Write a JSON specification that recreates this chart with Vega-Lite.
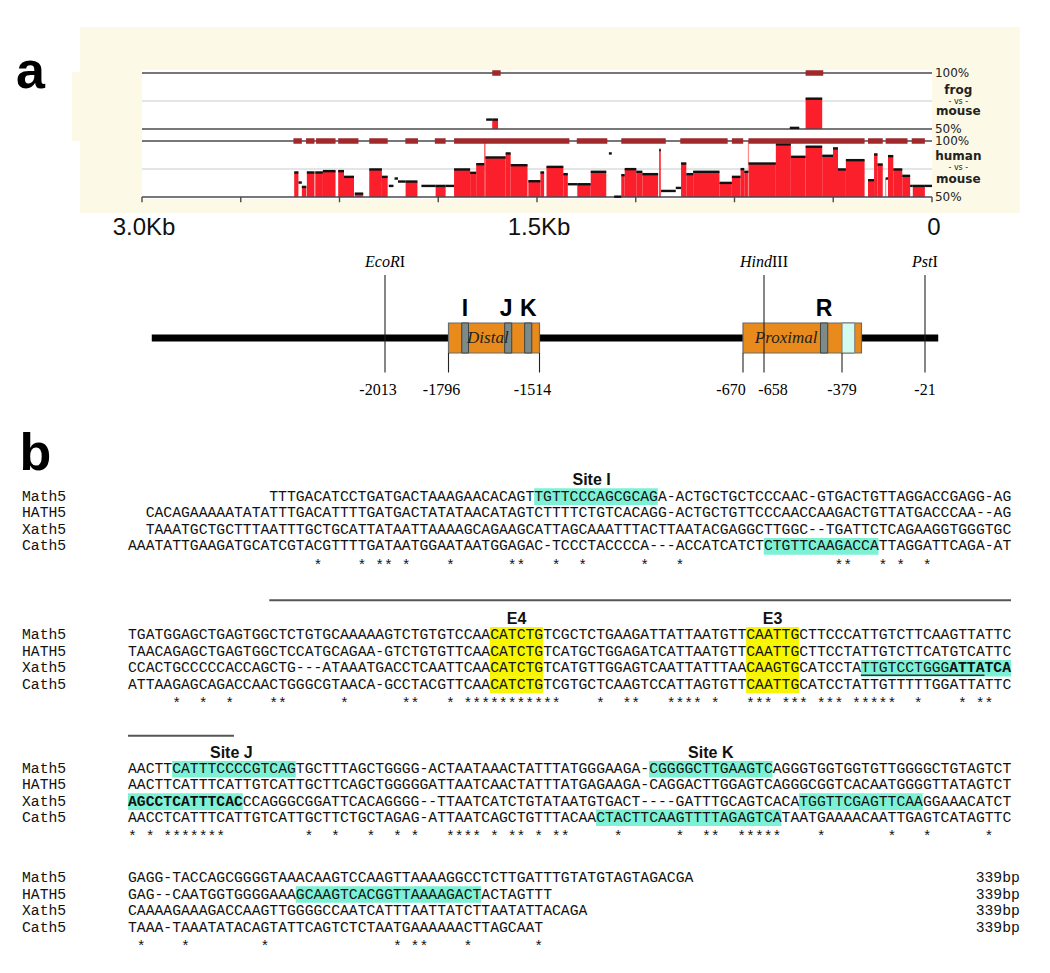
{
"$schema": "https://vega.github.io/schema/vega-lite/v6.json",
"width": 1050, "height": 973, "autosize": {"type": "none"}, "padding": 0,
"background": "white",
"config": {"view": {"stroke": null}},
"datasets": {
"hseg": [
{"s":2.422,"e":2.406,"p":71.9,"f":"y"},{"s":2.406,"e":2.393,"p":62.9,"f":"n"},{"s":2.393,"e":2.376,"p":59.0,"f":"y"},
{"s":2.374,"e":2.345,"p":71.9,"f":"y"},{"s":2.342,"e":2.313,"p":71.9,"f":"y"},{"s":2.313,"e":2.265,"p":73.1,"f":"y"},
{"s":2.255,"e":2.233,"p":73.1,"f":"y"},{"s":2.233,"e":2.195,"p":68.0,"f":"y"},{"s":2.192,"e":2.160,"p":53.0,"f":"y"},
{"s":2.137,"e":2.089,"p":74.6,"f":"y"},{"s":2.089,"e":2.067,"p":68.0,"f":"y"},{"s":2.063,"e":2.045,"p":59.9,"f":"n"},
{"s":2.041,"e":2.028,"p":66.5,"f":"n"},{"s":2.028,"e":1.999,"p":63.8,"f":"n"},{"s":1.999,"e":1.954,"p":63.8,"f":"y"},
{"s":1.939,"e":1.885,"p":59.9,"f":"n"},{"s":1.885,"e":1.847,"p":59.9,"f":"y"},{"s":1.847,"e":1.815,"p":59.9,"f":"n"},
{"s":1.815,"e":1.754,"p":74.6,"f":"y"},{"s":1.754,"e":1.731,"p":71.6,"f":"y"},{"s":1.731,"e":1.700,"p":79.3,"f":"y"},
{"s":1.700,"e":1.696,"p":100,"f":"y"},{"s":1.696,"e":1.619,"p":85.3,"f":"y"},{"s":1.619,"e":1.600,"p":88.9,"f":"y"},
{"s":1.600,"e":1.536,"p":78.4,"f":"y"},{"s":1.533,"e":1.487,"p":64.1,"f":"y"},{"s":1.487,"e":1.473,"p":71.9,"f":"y"},
{"s":1.464,"e":1.400,"p":76.9,"f":"y"},{"s":1.400,"e":1.383,"p":70.4,"f":"y"},{"s":1.383,"e":1.347,"p":61.4,"f":"n"},
{"s":1.347,"e":1.296,"p":61.4,"f":"y"},{"s":1.296,"e":1.237,"p":72.5,"f":"y"},{"s":1.227,"e":1.216,"p":88.9,"f":"n"},
{"s":1.207,"e":1.180,"p":50.3,"f":"n"},{"s":1.180,"e":1.167,"p":69.5,"f":"y"},{"s":1.167,"e":1.123,"p":74.9,"f":"y"},
{"s":1.123,"e":1.100,"p":72.5,"f":"y"},{"s":1.100,"e":1.040,"p":70.4,"f":"y"},{"s":1.036,"e":1.030,"p":91.9,"f":"y"},
{"s":1.029,"e":0.973,"p":55.4,"f":"n"},{"s":0.973,"e":0.953,"p":58.1,"f":"n"},{"s":0.953,"e":0.933,"p":79.9,"f":"y"},
{"s":0.933,"e":0.907,"p":70.4,"f":"y"},{"s":0.907,"e":0.807,"p":72.5,"f":"y"},{"s":0.807,"e":0.760,"p":62.6,"f":"y"},
{"s":0.760,"e":0.727,"p":68.0,"f":"y"},{"s":0.727,"e":0.713,"p":74.9,"f":"y"},{"s":0.713,"e":0.697,"p":72.5,"f":"y"},
{"s":0.697,"e":0.593,"p":79.9,"f":"y"},{"s":0.593,"e":0.536,"p":97.0,"f":"y"},{"s":0.536,"e":0.480,"p":85.9,"f":"y"},
{"s":0.480,"e":0.417,"p":94.9,"f":"y"},{"s":0.417,"e":0.376,"p":86.8,"f":"y"},{"s":0.376,"e":0.357,"p":93.4,"f":"y"},
{"s":0.357,"e":0.327,"p":74.6,"f":"y"},{"s":0.327,"e":0.256,"p":82.9,"f":"y"},{"s":0.243,"e":0.220,"p":65.0,"f":"y"},
{"s":0.220,"e":0.207,"p":88.0,"f":"y"},{"s":0.207,"e":0.187,"p":79.0,"f":"y"},{"s":0.176,"e":0.167,"p":66.5,"f":"n"},
{"s":0.167,"e":0.147,"p":86.5,"f":"y"},{"s":0.147,"e":0.113,"p":74.6,"f":"y"},{"s":0.113,"e":0.083,"p":68.9,"f":"y"},
{"s":0.083,"e":0.073,"p":59.9,"f":"n"},{"s":0.073,"e":0.027,"p":59.9,"f":"y"},{"s":0.027,"e":0.000,"p":59.9,"f":"n"}
],
"hblk": [
{"s":2.425,"e":2.393},{"s":2.377,"e":2.345},{"s":2.339,"e":2.265},{"s":2.255,"e":2.178},{"s":2.137,"e":2.067},
{"s":2.000,"e":1.952},{"s":1.888,"e":1.847},{"s":1.815,"e":1.377},{"s":1.349,"e":1.233},{"s":1.180,"e":1.011},
{"s":0.956,"e":0.776},{"s":0.760,"e":0.717},{"s":0.697,"e":0.256},{"s":0.243,"e":0.187},{"s":0.176,"e":0.093},
{"s":0.077,"e":0.027}
],
"hspk": [{"s":0.697,"p":100},{"s":0.176,"p":66.5}],
"fseg": [
{"s":1.693,"e":1.670,"p":58.4,"f":"n"},{"s":1.670,"e":1.648,"p":58.4,"f":"y"},
{"s":0.540,"e":0.504,"p":51.0,"f":"n"},{"s":0.480,"e":0.417,"p":77.1,"f":"y"}
],
"fblk": [{"s":1.670,"e":1.638},{"s":0.480,"e":0.413}],
"levels": [{"p":100,"k":"edge"},{"p":75,"k":"mid"},{"p":50,"k":"edge"}],
"ticks": [{"s":3},{"s":2.625},{"s":2.25},{"s":1.875},{"s":1.5},{"s":1.125},{"s":0.75},{"s":0.375},{"s":0}],
"xlab": [{"s":3,"t":"3.0Kb"},{"s":1.5,"t":"1.5Kb"},{"s":0,"t":"0"}],
"hlab": [{"p":100,"t":"100%","k":"pct"},{"p":86.5,"t":"human","k":"sp"},{"p":75.5,"t":"- vs -","k":"vs"},{"p":66.5,"t":"mouse","k":"sp"},{"p":50,"t":"50%","k":"pct"}],
"flab": [{"p":100,"t":"100%","k":"pct"},{"p":85,"t":"frog","k":"sp"},{"p":74.5,"t":"- vs -","k":"vs"},{"p":66,"t":"mouse","k":"sp"},{"p":50,"t":"50%","k":"pct"}],
"boxes": [{"b1":-1796,"b2":-1514,"name":"Distal","c":-1674},{"b1":-670,"b2":-295,"name":"Proximal","c":-579}],
"bands": [{"b1":-1755,"b2":-1734},{"b1":-1622,"b2":-1600},{"b1":-1560,"b2":-1538},{"b1":-456,"b2":-430}],
"cyanbox": [{"b1":-379,"b2":-324}],
"sites": [{"bp":-2013,"it":"EcoR","rm":"I"},{"bp":-658,"it":"Hind","rm":"III"},{"bp":-21,"it":"Pst","rm":"I"}],
"edges": [{"bp":-1796},{"bp":-1514},{"bp":-670},{"bp":-379}],
"letters": [{"bp":-1745,"t":"I"},{"bp":-1617,"t":"J"},{"bp":-1549,"t":"K"},{"bp":-443,"t":"R"}],
"nums": [{"bp":-2013,"t":"-2013"},{"bp":-1796,"t":"-1796"},{"bp":-1514,"t":"-1514"},{"bp":-670,"t":"-670"},{"bp":-658,"t":"-658"},{"bp":-379,"t":"-379"},{"bp":-21,"t":"-21"}],
"seq": [
{"line":1,"col":16,"txt":"TTTGACATCCTGATGACTAAAGAACACAGTTGTTCCCAGCGCAGA-ACTGCTGCTCCCAAC-GTGACTGTTAGGACCGAGG-AG","bold":false},
{"line":2,"col":2,"txt":"CACAGAAAAATATATTTGACATTTTGATGACTATATAACATAGTCTTTTCTGTCACAGG-ACTGCTGTTCCCAACCAAGACTGTTATGACCCAA--AG","bold":false},
{"line":3,"col":2,"txt":"TAAATGCTGCTTTAATTTGCTGCATTATAATTAAAAGCAGAAGCATTAGCAAATTTACTTAATACGAGGCTTGGC--TGATTCTCAGAAGGTGGGTGC","bold":false},
{"line":4,"col":0,"txt":"AAATATTGAAGATGCATCGTACGTTTTGATAATGGAATAATGGAGAC-TCCCTACCCCA---ACCATCATCTCTGTTCAAGACCATTAGGATTCAGA-AT","bold":false},
{"line":9,"col":0,"txt":"TGATGGAGCTGAGTGGCTCTGTGCAAAAAGTCTGTGTCCAACATCTGTCGCTCTGAAGATTATTAATGTTCAATTGCTTCCCATTGTCTTCAAGTTATTC","bold":false},
{"line":10,"col":0,"txt":"TAACAGAGCTGAGTGGCTCCATGCAGAA-GTCTGTGTTCAACATCTGTCATGCTGGAGATCATTAATGTTCAATTGCTTCCTATTGTCTTCATGTCATTC","bold":false},
{"line":11,"col":0,"txt":"CCACTGCCCCCACCAGCTG---ATAAATGACCTCAATTCAACATCTGTCATGTTGGAGTCAATTATTTAACAAGTGCATCCTATTGTCCTGGG","bold":false},
{"line":11,"col":93,"txt":"ATTATCA","bold":true},
{"line":12,"col":0,"txt":"ATTAAGAGCAGACCAACTGGGCGTAACA-GCCTACGTTCAACATCTGTCGTGCTCAAGTCCATTAGTGTTCAATTGCATCCTATTGTTTTTGGATTATTC","bold":false},
{"line":17,"col":0,"txt":"AACTTCATTTCCCCGTCAGTGCTTTAGCTGGGG-ACTAATAAACTATTTATGGGAAGA-CGGGGCTTGAAGTCAGGGTGGTGGTGTTGGGGCTGTAGTCT","bold":false},
{"line":18,"col":0,"txt":"AACTTCATTTCATTGTCATTGCTTCAGCTGGGGGATTAATCAACTATTTATGAGAAGA-CAGGACTTGGAGTCAGGGCGGTCACAATGGGGTTATAGTCT","bold":false},
{"line":19,"col":0,"txt":"AGCCTCATTTCAC","bold":true},
{"line":19,"col":13,"txt":"CCAGGGCGGATTCACAGGGG--TTAATCATCTGTATAATGTGACT----GATTTGCAGTCACATGGTTCGAGTTCAAGGAAACATCT","bold":false},
{"line":20,"col":0,"txt":"AACCTCATTTCATTGTCATTGCTTCTGCTAGAG-ATTAATCAGCTGTTTACAACTACTTCAAGTTTTAGAGTCATAATGAAAACAATTGAGTCATAGTTC","bold":false},
{"line":25,"col":0,"txt":"GAGG-TACCAGCGGGGTAAACAAGTCCAAGTTAAAAGGCCTCTTGATTTGTATGTAGTAGACGA","bold":false},
{"line":26,"col":0,"txt":"GAG--CAATGGTGGGGAAAGCAAGTCACGGTTAAAAGACTACTAGTTT","bold":false},
{"line":27,"col":0,"txt":"CAAAAGAAAGACCAAGTTGGGGCCAATCATTTAATTATCTTAATATTACAGA","bold":false},
{"line":28,"col":0,"txt":"TAAA-TAAATATACAGTATTCAGTCTCTAATGAAAAAACTTAGCAAT","bold":false}
],
"names": [
{"line":1,"txt":"Math5"},{"line":2,"txt":"HATH5"},{"line":3,"txt":"Xath5"},{"line":4,"txt":"Cath5"},
{"line":9,"txt":"Math5"},{"line":10,"txt":"HATH5"},{"line":11,"txt":"Xath5"},{"line":12,"txt":"Cath5"},
{"line":17,"txt":"Math5"},{"line":18,"txt":"HATH5"},{"line":19,"txt":"Xath5"},{"line":20,"txt":"Cath5"},
{"line":25,"txt":"Math5"},{"line":26,"txt":"HATH5"},{"line":27,"txt":"Xath5"},{"line":28,"txt":"Cath5"}
],
"bp339": [{"line":25,"txt":"339bp"},{"line":26,"txt":"339bp"},{"line":27,"txt":"339bp"},{"line":28,"txt":"339bp"}],
"stars": [
{"line":5,"col":21},{"line":5,"col":26},{"line":5,"col":28},{"line":5,"col":29},{"line":5,"col":31},{"line":5,"col":36},{"line":5,"col":43},{"line":5,"col":44},{"line":5,"col":48},{"line":5,"col":51},{"line":5,"col":58},{"line":5,"col":62},{"line":5,"col":80},{"line":5,"col":81},{"line":5,"col":85},{"line":5,"col":87},{"line":5,"col":90},
{"line":13,"col":5},{"line":13,"col":8},{"line":13,"col":11},{"line":13,"col":16},{"line":13,"col":17},{"line":13,"col":24},{"line":13,"col":31},{"line":13,"col":32},{"line":13,"col":36},{"line":13,"col":38},{"line":13,"col":39},{"line":13,"col":40},{"line":13,"col":41},{"line":13,"col":42},{"line":13,"col":43},{"line":13,"col":44},{"line":13,"col":45},{"line":13,"col":46},{"line":13,"col":47},{"line":13,"col":48},{"line":13,"col":53},{"line":13,"col":56},{"line":13,"col":57},{"line":13,"col":61},{"line":13,"col":62},{"line":13,"col":63},{"line":13,"col":64},{"line":13,"col":66},{"line":13,"col":70},{"line":13,"col":71},{"line":13,"col":72},{"line":13,"col":74},{"line":13,"col":75},{"line":13,"col":76},{"line":13,"col":78},{"line":13,"col":79},{"line":13,"col":80},{"line":13,"col":82},{"line":13,"col":83},{"line":13,"col":84},{"line":13,"col":85},{"line":13,"col":86},{"line":13,"col":89},{"line":13,"col":94},{"line":13,"col":96},{"line":13,"col":97},
{"line":21,"col":0},{"line":21,"col":2},{"line":21,"col":4},{"line":21,"col":5},{"line":21,"col":6},{"line":21,"col":7},{"line":21,"col":8},{"line":21,"col":9},{"line":21,"col":10},{"line":21,"col":20},{"line":21,"col":23},{"line":21,"col":27},{"line":21,"col":30},{"line":21,"col":32},{"line":21,"col":36},{"line":21,"col":37},{"line":21,"col":38},{"line":21,"col":39},{"line":21,"col":41},{"line":21,"col":43},{"line":21,"col":44},{"line":21,"col":46},{"line":21,"col":48},{"line":21,"col":49},{"line":21,"col":55},{"line":21,"col":62},{"line":21,"col":65},{"line":21,"col":66},{"line":21,"col":69},{"line":21,"col":70},{"line":21,"col":71},{"line":21,"col":72},{"line":21,"col":73},{"line":21,"col":78},{"line":21,"col":86},{"line":21,"col":90},{"line":21,"col":97},
{"line":29,"col":1},{"line":29,"col":6},{"line":29,"col":15},{"line":29,"col":30},{"line":29,"col":32},{"line":29,"col":33},{"line":29,"col":38},{"line":29,"col":46}
],
"hl": [
{"line":1,"c1":46,"c2":60,"type":"site"},{"line":4,"c1":72,"c2":85,"type":"site"},
{"line":9,"c1":41,"c2":47,"type":"ebox"},{"line":10,"c1":41,"c2":47,"type":"ebox"},{"line":11,"c1":41,"c2":47,"type":"ebox"},{"line":12,"c1":41,"c2":47,"type":"ebox"},
{"line":9,"c1":70,"c2":76,"type":"ebox"},{"line":10,"c1":70,"c2":76,"type":"ebox"},{"line":11,"c1":70,"c2":76,"type":"ebox"},{"line":12,"c1":70,"c2":76,"type":"ebox"},
{"line":11,"c1":83,"c2":100,"type":"site"},
{"line":17,"c1":5,"c2":19,"type":"site"},{"line":17,"c1":59,"c2":73,"type":"site"},
{"line":19,"c1":0,"c2":13,"type":"site"},{"line":19,"c1":76,"c2":90,"type":"site"},
{"line":20,"c1":53,"c2":74,"type":"site"},
{"line":26,"c1":19,"c2":40,"type":"site"}
],
"blabels": [{"line":0,"col":52.5,"txt":"Site I"},{"line":8,"col":44,"txt":"E4"},{"line":8,"col":73,"txt":"E3"},{"line":16,"col":11.7,"txt":"Site J"},{"line":16,"col":66,"txt":"Site K"}],
"bars": [{"line":7,"c1":16,"c2":100},{"line":15,"c1":0,"c2":12}],
"uline": [{"line":11,"c1":83,"c2":97}]
},
"resolve": {"scale": {"x": "independent", "y": "independent"}},
"layer": [
{
"layer": [
{"data":{"values":[{}]},"mark":{"type":"rect","color":"#fcf9e6"},
 "encoding":{"x":{"datum":3.2354,"type":"quantitative","scale":{"domain":[0,3],"range":[932,142],"nice":false,"zero":false},"axis":null},"x2":{"datum":-0.3342},
 "y":{"datum":201.8,"type":"quantitative","scale":{"domain":[50,100],"range":[197,141],"nice":false,"zero":false},"axis":null},"y2":{"datum":35.7}}},
{"data":{"values":[{}]},"mark":{"type":"rect","color":"#fcf9e6"},
 "encoding":{"x":{"datum":3.2658,"type":"quantitative","scale":{"domain":[0,3],"range":[932,142],"nice":false,"zero":false},"axis":null},"x2":{"datum":3.2354},
 "y":{"datum":161.6,"type":"quantitative","scale":{"domain":[50,100],"range":[197,141],"nice":false,"zero":false},"axis":null},"y2":{"datum":100}}},
{"data":{"values":[{}]},"mark":{"type":"rect","color":"#ffffff"},
 "encoding":{"x":{"datum":3,"type":"quantitative","scale":{"domain":[0,3],"range":[932,142],"nice":false,"zero":false},"axis":null},"x2":{"datum":0},
 "y":{"datum":163.4,"type":"quantitative","scale":{"domain":[50,100],"range":[197,141],"nice":false,"zero":false},"axis":null},"y2":{"datum":48.2}}},
{"data":{"name":"levels"},"transform":[{"filter":"datum.k == 'mid'"}],"mark":{"type":"rule","color":"#d9dede","strokeWidth":1.5},
 "encoding":{"x":{"datum":3,"type":"quantitative","scale":{"domain":[0,3],"range":[932,142],"nice":false,"zero":false},"axis":null},"x2":{"datum":0},
 "y":{"field":"p","type":"quantitative","scale":{"domain":[50,100],"range":[197,141],"nice":false,"zero":false},"axis":null}}},
{"data":{"name":"hseg"},"transform":[{"filter":"datum.f == 'y'"}],"mark":{"type":"rect","color":"#fb1f2c"},
 "encoding":{"x":{"field":"s","type":"quantitative","scale":{"domain":[0,3],"range":[932,142],"nice":false,"zero":false},"axis":null},"x2":{"field":"e"},
 "y":{"field":"p","type":"quantitative","scale":{"domain":[50,100],"range":[197,141],"nice":false,"zero":false},"axis":null},"y2":{"datum":50}}},
{"data":{"name":"hspk"},"mark":{"type":"rule","color":"#ff8a8a","strokeWidth":1.2},
 "encoding":{"x":{"field":"s","type":"quantitative","scale":{"domain":[0,3],"range":[932,142],"nice":false,"zero":false},"axis":null},
 "y":{"field":"p","type":"quantitative","scale":{"domain":[50,100],"range":[197,141],"nice":false,"zero":false},"axis":null},"y2":{"datum":50}}},
{"data":{"name":"levels"},"transform":[{"filter":"datum.k == 'edge'"}],"mark":{"type":"rule","color":"#4a4a4a","strokeWidth":1.6},
 "encoding":{"x":{"datum":3,"type":"quantitative","scale":{"domain":[0,3],"range":[932,142],"nice":false,"zero":false},"axis":null},"x2":{"datum":0},
 "y":{"field":"p","type":"quantitative","scale":{"domain":[50,100],"range":[197,141],"nice":false,"zero":false},"axis":null}}},
{"data":{"name":"hseg"},"mark":{"type":"rule","color":"#111111","strokeWidth":2.4},
 "encoding":{"x":{"field":"s","type":"quantitative","scale":{"domain":[0,3],"range":[932,142],"nice":false,"zero":false},"axis":null},"x2":{"field":"e"},
 "y":{"field":"p","type":"quantitative","scale":{"domain":[50,100],"range":[197,141],"nice":false,"zero":false},"axis":null}}},
{"data":{"name":"hblk"},"mark":{"type":"rule","color":"#a0292c","strokeWidth":5.5},
 "encoding":{"x":{"field":"s","type":"quantitative","scale":{"domain":[0,3],"range":[932,142],"nice":false,"zero":false},"axis":null},"x2":{"field":"e"},
 "y":{"datum":100,"type":"quantitative","scale":{"domain":[50,100],"range":[197,141],"nice":false,"zero":false},"axis":null}}},
{"data":{"name":"ticks"},"mark":{"type":"rule","color":"#4a4a4a","strokeWidth":1.4},
 "encoding":{"x":{"field":"s","type":"quantitative","scale":{"domain":[0,3],"range":[932,142],"nice":false,"zero":false},"axis":null},
 "y":{"datum":50,"type":"quantitative","scale":{"domain":[50,100],"range":[197,141],"nice":false,"zero":false},"axis":null},"y2":{"datum":45.3}}},
{"data":{"name":"xlab"},"mark":{"type":"text","font":"Liberation Sans","fontSize":24,"align":"center","baseline":"alphabetic","dx":2,"color":"#111111"},
 "encoding":{"x":{"field":"s","type":"quantitative","scale":{"domain":[0,3],"range":[932,142],"nice":false,"zero":false},"axis":null},
 "y":{"datum":16.1,"type":"quantitative","scale":{"domain":[50,100],"range":[197,141],"nice":false,"zero":false},"axis":null},"text":{"field":"t"}}},
{"data":{"name":"hlab"},"transform":[{"filter":"datum.k == 'pct'"}],"mark":{"type":"text","font":"DejaVu Sans","fontSize":12,"align":"left","baseline":"middle","color":"#222222"},
 "encoding":{"x":{"datum":-0.011,"type":"quantitative","scale":{"domain":[0,3],"range":[932,142],"nice":false,"zero":false},"axis":null},
 "y":{"field":"p","type":"quantitative","scale":{"domain":[50,100],"range":[197,141],"nice":false,"zero":false},"axis":null},"text":{"field":"t"}}},
{"data":{"name":"hlab"},"transform":[{"filter":"datum.k == 'sp'"}],"mark":{"type":"text","font":"DejaVu Sans","fontSize":12,"fontWeight":"bold","align":"center","baseline":"middle","color":"#222222"},
 "encoding":{"x":{"datum":-0.1,"type":"quantitative","scale":{"domain":[0,3],"range":[932,142],"nice":false,"zero":false},"axis":null},
 "y":{"field":"p","type":"quantitative","scale":{"domain":[50,100],"range":[197,141],"nice":false,"zero":false},"axis":null},"text":{"field":"t"}}},
{"data":{"name":"hlab"},"transform":[{"filter":"datum.k == 'vs'"}],"mark":{"type":"text","font":"DejaVu Sans","fontSize":8,"align":"center","baseline":"middle","color":"#222222"},
 "encoding":{"x":{"datum":-0.1,"type":"quantitative","scale":{"domain":[0,3],"range":[932,142],"nice":false,"zero":false},"axis":null},
 "y":{"field":"p","type":"quantitative","scale":{"domain":[50,100],"range":[197,141],"nice":false,"zero":false},"axis":null},"text":{"field":"t"}}}
]
},
{
"layer": [
{"data":{"name":"levels"},"transform":[{"filter":"datum.k == 'mid'"}],"mark":{"type":"rule","color":"#d9dede","strokeWidth":1.5},
 "encoding":{"x":{"datum":3,"type":"quantitative","scale":{"domain":[0,3],"range":[932,142],"nice":false,"zero":false},"axis":null},"x2":{"datum":0},
 "y":{"field":"p","type":"quantitative","scale":{"domain":[50,100],"range":[129,73],"nice":false,"zero":false},"axis":null}}},
{"data":{"name":"fseg"},"transform":[{"filter":"datum.f == 'y'"}],"mark":{"type":"rect","color":"#fb1f2c"},
 "encoding":{"x":{"field":"s","type":"quantitative","scale":{"domain":[0,3],"range":[932,142],"nice":false,"zero":false},"axis":null},"x2":{"field":"e"},
 "y":{"field":"p","type":"quantitative","scale":{"domain":[50,100],"range":[129,73],"nice":false,"zero":false},"axis":null},"y2":{"datum":50}}},
{"data":{"name":"levels"},"transform":[{"filter":"datum.k == 'edge'"}],"mark":{"type":"rule","color":"#4a4a4a","strokeWidth":1.6},
 "encoding":{"x":{"datum":3,"type":"quantitative","scale":{"domain":[0,3],"range":[932,142],"nice":false,"zero":false},"axis":null},"x2":{"datum":0},
 "y":{"field":"p","type":"quantitative","scale":{"domain":[50,100],"range":[129,73],"nice":false,"zero":false},"axis":null}}},
{"data":{"name":"fseg"},"mark":{"type":"rule","color":"#111111","strokeWidth":2.4},
 "encoding":{"x":{"field":"s","type":"quantitative","scale":{"domain":[0,3],"range":[932,142],"nice":false,"zero":false},"axis":null},"x2":{"field":"e"},
 "y":{"field":"p","type":"quantitative","scale":{"domain":[50,100],"range":[129,73],"nice":false,"zero":false},"axis":null}}},
{"data":{"name":"fblk"},"mark":{"type":"rule","color":"#a0292c","strokeWidth":5.5},
 "encoding":{"x":{"field":"s","type":"quantitative","scale":{"domain":[0,3],"range":[932,142],"nice":false,"zero":false},"axis":null},"x2":{"field":"e"},
 "y":{"datum":100,"type":"quantitative","scale":{"domain":[50,100],"range":[129,73],"nice":false,"zero":false},"axis":null}}},
{"data":{"name":"flab"},"transform":[{"filter":"datum.k == 'pct'"}],"mark":{"type":"text","font":"DejaVu Sans","fontSize":12,"align":"left","baseline":"middle","color":"#222222"},
 "encoding":{"x":{"datum":-0.011,"type":"quantitative","scale":{"domain":[0,3],"range":[932,142],"nice":false,"zero":false},"axis":null},
 "y":{"field":"p","type":"quantitative","scale":{"domain":[50,100],"range":[129,73],"nice":false,"zero":false},"axis":null},"text":{"field":"t"}}},
{"data":{"name":"flab"},"transform":[{"filter":"datum.k == 'sp'"}],"mark":{"type":"text","font":"DejaVu Sans","fontSize":12,"fontWeight":"bold","align":"center","baseline":"middle","color":"#222222"},
 "encoding":{"x":{"datum":-0.1,"type":"quantitative","scale":{"domain":[0,3],"range":[932,142],"nice":false,"zero":false},"axis":null},
 "y":{"field":"p","type":"quantitative","scale":{"domain":[50,100],"range":[129,73],"nice":false,"zero":false},"axis":null},"text":{"field":"t"}}},
{"data":{"name":"flab"},"transform":[{"filter":"datum.k == 'vs'"}],"mark":{"type":"text","font":"DejaVu Sans","fontSize":8,"align":"center","baseline":"middle","color":"#222222"},
 "encoding":{"x":{"datum":-0.1,"type":"quantitative","scale":{"domain":[0,3],"range":[932,142],"nice":false,"zero":false},"axis":null},
 "y":{"field":"p","type":"quantitative","scale":{"domain":[50,100],"range":[129,73],"nice":false,"zero":false},"axis":null},"text":{"field":"t"}}},
{"data":{"values":[{}]},"mark":{"type":"text","font":"Liberation Sans","fontSize":52,"fontWeight":"bold","align":"left","baseline":"alphabetic","color":"#000000"},
 "encoding":{"x":{"datum":3.4785,"type":"quantitative","scale":{"domain":[0,3],"range":[932,142],"nice":false,"zero":false},"axis":null},
 "y":{"datum":86.6,"type":"quantitative","scale":{"domain":[50,100],"range":[129,73],"nice":false,"zero":false},"axis":null},"text":{"value":"a"}}}
]
},
{
"layer": [
{"data":{"values":[{}]},"mark":{"type":"rule","color":"#000000","strokeWidth":7,"strokeCap":"butt"},
 "encoding":{"x":{"datum":-2810,"type":"quantitative","scale":{"domain":[-2013,-1796,-1514,-670,-658,-379,-21],"range":[385,448.5,539.5,743,764,842,925],"nice":false,"zero":false},"axis":null},"x2":{"datum":36},
 "y":{"datum":0,"type":"quantitative","scale":{"domain":[-1,1],"range":[353,323],"nice":false,"zero":false},"axis":null}}},
{"data":{"name":"boxes"},"mark":{"type":"rect","fill":"#e98a1c","stroke":"#6a6a6a","strokeWidth":1.2},
 "encoding":{"x":{"field":"b1","type":"quantitative","scale":{"domain":[-2013,-1796,-1514,-670,-658,-379,-21],"range":[385,448.5,539.5,743,764,842,925],"nice":false,"zero":false},"axis":null},"x2":{"field":"b2"},
 "y":{"datum":-1,"type":"quantitative","scale":{"domain":[-1,1],"range":[353,323],"nice":false,"zero":false},"axis":null},"y2":{"datum":1}}},
{"data":{"name":"bands"},"mark":{"type":"rect","fill":"#7d8a8a","stroke":"#3d4545","strokeWidth":1},
 "encoding":{"x":{"field":"b1","type":"quantitative","scale":{"domain":[-2013,-1796,-1514,-670,-658,-379,-21],"range":[385,448.5,539.5,743,764,842,925],"nice":false,"zero":false},"axis":null},"x2":{"field":"b2"},
 "y":{"datum":-1,"type":"quantitative","scale":{"domain":[-1,1],"range":[353,323],"nice":false,"zero":false},"axis":null},"y2":{"datum":1}}},
{"data":{"name":"cyanbox"},"mark":{"type":"rect","fill":"#d3fbf0","stroke":"#777777","strokeWidth":1},
 "encoding":{"x":{"field":"b1","type":"quantitative","scale":{"domain":[-2013,-1796,-1514,-670,-658,-379,-21],"range":[385,448.5,539.5,743,764,842,925],"nice":false,"zero":false},"axis":null},"x2":{"field":"b2"},
 "y":{"datum":-1,"type":"quantitative","scale":{"domain":[-1,1],"range":[353,323],"nice":false,"zero":false},"axis":null},"y2":{"datum":1}}},
{"data":{"name":"boxes"},"mark":{"type":"text","font":"Liberation Serif","fontStyle":"italic","fontSize":17,"align":"center","baseline":"middle","color":"#222222"},
 "encoding":{"x":{"field":"c","type":"quantitative","scale":{"domain":[-2013,-1796,-1514,-670,-658,-379,-21],"range":[385,448.5,539.5,743,764,842,925],"nice":false,"zero":false},"axis":null},
 "y":{"datum":0,"type":"quantitative","scale":{"domain":[-1,1],"range":[353,323],"nice":false,"zero":false},"axis":null},"text":{"field":"name"}}},
{"data":{"name":"sites"},"mark":{"type":"rule","color":"#222222","strokeWidth":1.1},
 "encoding":{"x":{"field":"bp","type":"quantitative","scale":{"domain":[-2013,-1796,-1514,-670,-658,-379,-21],"range":[385,448.5,539.5,743,764,842,925],"nice":false,"zero":false},"axis":null},
 "y":{"datum":4.2,"type":"quantitative","scale":{"domain":[-1,1],"range":[353,323],"nice":false,"zero":false},"axis":null},"y2":{"datum":-2.3}}},
{"data":{"name":"edges"},"mark":{"type":"rule","color":"#222222","strokeWidth":1.1},
 "encoding":{"x":{"field":"bp","type":"quantitative","scale":{"domain":[-2013,-1796,-1514,-670,-658,-379,-21],"range":[385,448.5,539.5,743,764,842,925],"nice":false,"zero":false},"axis":null},
 "y":{"datum":-1,"type":"quantitative","scale":{"domain":[-1,1],"range":[353,323],"nice":false,"zero":false},"axis":null},"y2":{"datum":-2.3}}},
{"data":{"name":"sites"},"transform":[{"filter":"datum.bp == -2013"}],"mark":{"type":"text","font":"Liberation Serif","fontStyle":"italic","fontSize":16,"align":"right","baseline":"alphabetic","dx":14.7},
 "encoding":{"x":{"field":"bp","type":"quantitative","scale":{"domain":[-2013,-1796,-1514,-670,-658,-379,-21],"range":[385,448.5,539.5,743,764,842,925],"nice":false,"zero":false},"axis":null},
 "y":{"datum":4.73,"type":"quantitative","scale":{"domain":[-1,1],"range":[353,323],"nice":false,"zero":false},"axis":null},"text":{"field":"it"}}},
{"data":{"name":"sites"},"transform":[{"filter":"datum.bp == -2013"}],"mark":{"type":"text","font":"Liberation Serif","fontSize":16,"align":"left","baseline":"alphabetic","dx":14.7},
 "encoding":{"x":{"field":"bp","type":"quantitative","scale":{"domain":[-2013,-1796,-1514,-670,-658,-379,-21],"range":[385,448.5,539.5,743,764,842,925],"nice":false,"zero":false},"axis":null},
 "y":{"datum":4.73,"type":"quantitative","scale":{"domain":[-1,1],"range":[353,323],"nice":false,"zero":false},"axis":null},"text":{"field":"rm"}}},
{"data":{"name":"sites"},"transform":[{"filter":"datum.bp == -658"}],"mark":{"type":"text","font":"Liberation Serif","fontStyle":"italic","fontSize":16,"align":"right","baseline":"alphabetic","dx":8},
 "encoding":{"x":{"field":"bp","type":"quantitative","scale":{"domain":[-2013,-1796,-1514,-670,-658,-379,-21],"range":[385,448.5,539.5,743,764,842,925],"nice":false,"zero":false},"axis":null},
 "y":{"datum":4.73,"type":"quantitative","scale":{"domain":[-1,1],"range":[353,323],"nice":false,"zero":false},"axis":null},"text":{"field":"it"}}},
{"data":{"name":"sites"},"transform":[{"filter":"datum.bp == -658"}],"mark":{"type":"text","font":"Liberation Serif","fontSize":16,"align":"left","baseline":"alphabetic","dx":8},
 "encoding":{"x":{"field":"bp","type":"quantitative","scale":{"domain":[-2013,-1796,-1514,-670,-658,-379,-21],"range":[385,448.5,539.5,743,764,842,925],"nice":false,"zero":false},"axis":null},
 "y":{"datum":4.73,"type":"quantitative","scale":{"domain":[-1,1],"range":[353,323],"nice":false,"zero":false},"axis":null},"text":{"field":"rm"}}},
{"data":{"name":"sites"},"transform":[{"filter":"datum.bp == -21"}],"mark":{"type":"text","font":"Liberation Serif","fontStyle":"italic","fontSize":16,"align":"right","baseline":"alphabetic","dx":7.5},
 "encoding":{"x":{"field":"bp","type":"quantitative","scale":{"domain":[-2013,-1796,-1514,-670,-658,-379,-21],"range":[385,448.5,539.5,743,764,842,925],"nice":false,"zero":false},"axis":null},
 "y":{"datum":4.73,"type":"quantitative","scale":{"domain":[-1,1],"range":[353,323],"nice":false,"zero":false},"axis":null},"text":{"field":"it"}}},
{"data":{"name":"sites"},"transform":[{"filter":"datum.bp == -21"}],"mark":{"type":"text","font":"Liberation Serif","fontSize":16,"align":"left","baseline":"alphabetic","dx":7.5},
 "encoding":{"x":{"field":"bp","type":"quantitative","scale":{"domain":[-2013,-1796,-1514,-670,-658,-379,-21],"range":[385,448.5,539.5,743,764,842,925],"nice":false,"zero":false},"axis":null},
 "y":{"datum":4.73,"type":"quantitative","scale":{"domain":[-1,1],"range":[353,323],"nice":false,"zero":false},"axis":null},"text":{"field":"rm"}}},
{"data":{"name":"letters"},"mark":{"type":"text","font":"Liberation Sans","fontWeight":"bold","fontSize":23,"align":"center","baseline":"alphabetic"},
 "encoding":{"x":{"field":"bp","type":"quantitative","scale":{"domain":[-2013,-1796,-1514,-670,-658,-379,-21],"range":[385,448.5,539.5,743,764,842,925],"nice":false,"zero":false},"axis":null},
 "y":{"datum":1.47,"type":"quantitative","scale":{"domain":[-1,1],"range":[353,323],"nice":false,"zero":false},"axis":null},"text":{"field":"t"}}},
{"data":{"name":"nums"},"transform":[{"filter":{"field":"bp","oneOf":[-2013,-1796,-1514]}}],"mark":{"type":"text","font":"Liberation Serif","fontSize":16,"align":"center","baseline":"alphabetic","dx":-7},
 "encoding":{"x":{"field":"bp","type":"quantitative","scale":{"domain":[-2013,-1796,-1514,-670,-658,-379,-21],"range":[385,448.5,539.5,743,764,842,925],"nice":false,"zero":false},"axis":null},
 "y":{"datum":-3.8,"type":"quantitative","scale":{"domain":[-1,1],"range":[353,323],"nice":false,"zero":false},"axis":null},"text":{"field":"t"}}},
{"data":{"name":"nums"},"transform":[{"filter":{"field":"bp","oneOf":[-670]}}],"mark":{"type":"text","font":"Liberation Serif","fontSize":16,"align":"center","baseline":"alphabetic","dx":-12},
 "encoding":{"x":{"field":"bp","type":"quantitative","scale":{"domain":[-2013,-1796,-1514,-670,-658,-379,-21],"range":[385,448.5,539.5,743,764,842,925],"nice":false,"zero":false},"axis":null},
 "y":{"datum":-3.8,"type":"quantitative","scale":{"domain":[-1,1],"range":[353,323],"nice":false,"zero":false},"axis":null},"text":{"field":"t"}}},
{"data":{"name":"nums"},"transform":[{"filter":{"field":"bp","oneOf":[-658]}}],"mark":{"type":"text","font":"Liberation Serif","fontSize":16,"align":"center","baseline":"alphabetic","dx":9},
 "encoding":{"x":{"field":"bp","type":"quantitative","scale":{"domain":[-2013,-1796,-1514,-670,-658,-379,-21],"range":[385,448.5,539.5,743,764,842,925],"nice":false,"zero":false},"axis":null},
 "y":{"datum":-3.8,"type":"quantitative","scale":{"domain":[-1,1],"range":[353,323],"nice":false,"zero":false},"axis":null},"text":{"field":"t"}}},
{"data":{"name":"nums"},"transform":[{"filter":{"field":"bp","oneOf":[-379,-21]}}],"mark":{"type":"text","font":"Liberation Serif","fontSize":16,"align":"center","baseline":"alphabetic"},
 "encoding":{"x":{"field":"bp","type":"quantitative","scale":{"domain":[-2013,-1796,-1514,-670,-658,-379,-21],"range":[385,448.5,539.5,743,764,842,925],"nice":false,"zero":false},"axis":null},
 "y":{"datum":-3.8,"type":"quantitative","scale":{"domain":[-1,1],"range":[353,323],"nice":false,"zero":false},"axis":null},"text":{"field":"t"}}}
]
},
{
"layer": [
{"data":{"name":"hl"},"transform":[{"filter":"datum.type == 'site'"}],"mark":{"type":"rect","color":"#7df1d6","yOffset":-8.3,"y2Offset":8.3},
 "encoding":{"x":{"field":"c1","type":"quantitative","scale":{"domain":[0,100],"range":[128,1011],"nice":false,"zero":false},"axis":null},"x2":{"field":"c2"},
 "y":{"field":"line","type":"quantitative","scale":{"domain":[0,5,8,13,16,21,25,29],"range":[480,563,619,701,753,834,878,944],"nice":false,"zero":false},"axis":null},"y2":{"field":"line"}}},
{"data":{"name":"hl"},"transform":[{"filter":"datum.type == 'ebox'"}],"mark":{"type":"rect","color":"#f7f500","yOffset":-8.3,"y2Offset":8.3},
 "encoding":{"x":{"field":"c1","type":"quantitative","scale":{"domain":[0,100],"range":[128,1011],"nice":false,"zero":false},"axis":null},"x2":{"field":"c2"},
 "y":{"field":"line","type":"quantitative","scale":{"domain":[0,5,8,13,16,21,25,29],"range":[480,563,619,701,753,834,878,944],"nice":false,"zero":false},"axis":null},"y2":{"field":"line"}}},
{"data":{"name":"bars"},"mark":{"type":"rule","color":"#555555","strokeWidth":2},
 "encoding":{"x":{"field":"c1","type":"quantitative","scale":{"domain":[0,100],"range":[128,1011],"nice":false,"zero":false},"axis":null},"x2":{"field":"c2"},
 "y":{"field":"line","type":"quantitative","scale":{"domain":[0,5,8,13,16,21,25,29],"range":[480,563,619,701,753,834,878,944],"nice":false,"zero":false},"axis":null}}},
{"data":{"name":"uline"},"mark":{"type":"rule","color":"#333333","strokeWidth":1.6,"yOffset":7},
 "encoding":{"x":{"field":"c1","type":"quantitative","scale":{"domain":[0,100],"range":[128,1011],"nice":false,"zero":false},"axis":null},"x2":{"field":"c2"},
 "y":{"field":"line","type":"quantitative","scale":{"domain":[0,5,8,13,16,21,25,29],"range":[480,563,619,701,753,834,878,944],"nice":false,"zero":false},"axis":null}}},
{"data":{"name":"seq"},"transform":[{"filter":"!datum.bold"}],"mark":{"type":"text","font":"Liberation Mono","fontSize":14.72,"align":"left","baseline":"middle","color":"#111111"},
 "encoding":{"x":{"field":"col","type":"quantitative","scale":{"domain":[0,100],"range":[128,1011],"nice":false,"zero":false},"axis":null},
 "y":{"field":"line","type":"quantitative","scale":{"domain":[0,5,8,13,16,21,25,29],"range":[480,563,619,701,753,834,878,944],"nice":false,"zero":false},"axis":null},"text":{"field":"txt"}}},
{"data":{"name":"seq"},"transform":[{"filter":"datum.bold"}],"mark":{"type":"text","font":"Liberation Mono","fontSize":14.72,"fontWeight":"bold","align":"left","baseline":"middle","color":"#111111"},
 "encoding":{"x":{"field":"col","type":"quantitative","scale":{"domain":[0,100],"range":[128,1011],"nice":false,"zero":false},"axis":null},
 "y":{"field":"line","type":"quantitative","scale":{"domain":[0,5,8,13,16,21,25,29],"range":[480,563,619,701,753,834,878,944],"nice":false,"zero":false},"axis":null},"text":{"field":"txt"}}},
{"data":{"name":"names"},"mark":{"type":"text","font":"Liberation Mono","fontSize":14.72,"align":"left","baseline":"middle","color":"#111111"},
 "encoding":{"x":{"datum":-12,"type":"quantitative","scale":{"domain":[0,100],"range":[128,1011],"nice":false,"zero":false},"axis":null},
 "y":{"field":"line","type":"quantitative","scale":{"domain":[0,5,8,13,16,21,25,29],"range":[480,563,619,701,753,834,878,944],"nice":false,"zero":false},"axis":null},"text":{"field":"txt"}}},
{"data":{"name":"bp339"},"mark":{"type":"text","font":"Liberation Mono","fontSize":14.72,"align":"left","baseline":"middle","color":"#111111"},
 "encoding":{"x":{"datum":96,"type":"quantitative","scale":{"domain":[0,100],"range":[128,1011],"nice":false,"zero":false},"axis":null},
 "y":{"field":"line","type":"quantitative","scale":{"domain":[0,5,8,13,16,21,25,29],"range":[480,563,619,701,753,834,878,944],"nice":false,"zero":false},"axis":null},"text":{"field":"txt"}}},
{"data":{"name":"stars"},"mark":{"type":"text","font":"Liberation Mono","fontSize":14.72,"align":"left","baseline":"middle","dy":3,"color":"#111111"},
 "encoding":{"x":{"field":"col","type":"quantitative","scale":{"domain":[0,100],"range":[128,1011],"nice":false,"zero":false},"axis":null},
 "y":{"field":"line","type":"quantitative","scale":{"domain":[0,5,8,13,16,21,25,29],"range":[480,563,619,701,753,834,878,944],"nice":false,"zero":false},"axis":null},"text":{"value":"*"}}},
{"data":{"name":"blabels"},"mark":{"type":"text","font":"Liberation Sans","fontWeight":"bold","fontSize":16,"align":"center","baseline":"middle","color":"#111111"},
 "encoding":{"x":{"field":"col","type":"quantitative","scale":{"domain":[0,100],"range":[128,1011],"nice":false,"zero":false},"axis":null},
 "y":{"field":"line","type":"quantitative","scale":{"domain":[0,5,8,13,16,21,25,29],"range":[480,563,619,701,753,834,878,944],"nice":false,"zero":false},"axis":null},"text":{"field":"txt"}}},
{"data":{"values":[{}]},"mark":{"type":"text","font":"Liberation Sans","fontWeight":"bold","fontSize":52,"align":"left","baseline":"alphabetic","color":"#000000"},
 "encoding":{"x":{"datum":-12.3,"type":"quantitative","scale":{"domain":[0,100],"range":[128,1011],"nice":false,"zero":false},"axis":null},
 "y":{"datum":-0.6,"type":"quantitative","scale":{"domain":[0,5,8,13,16,21,25,29],"range":[480,563,619,701,753,834,878,944],"nice":false,"zero":false},"axis":null},"text":{"value":"b"}}}
]
}
]
}
